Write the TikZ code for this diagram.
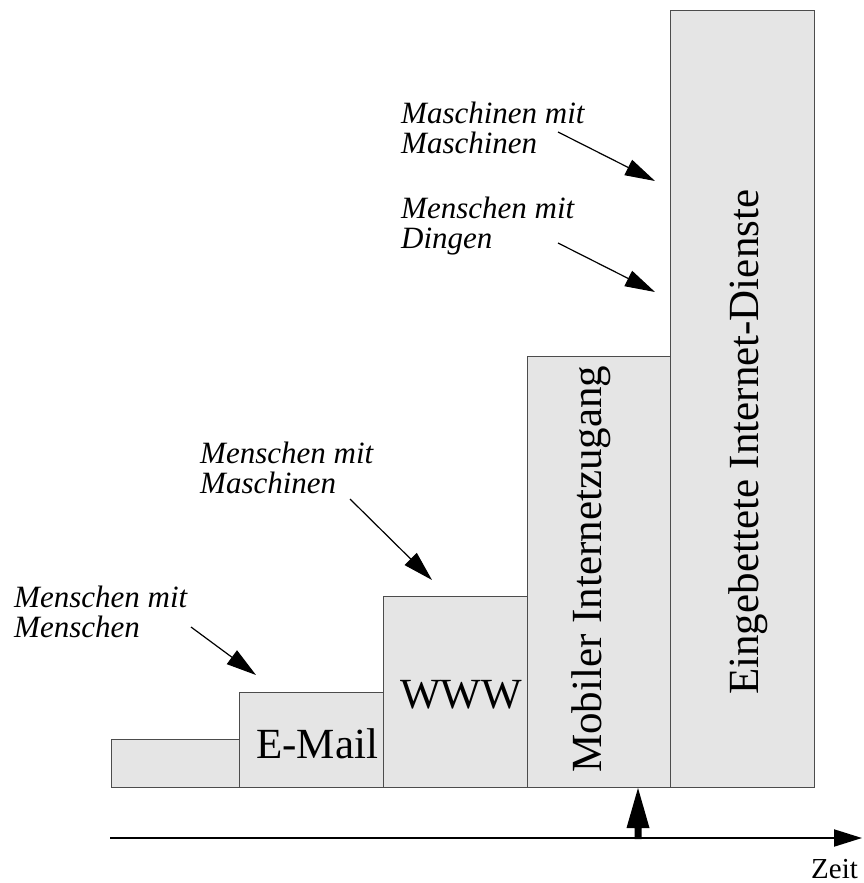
\documentclass[tikz,border=0pt]{standalone}
\usepackage{fontspec}
\setmainfont{Liberation Serif}
\usetikzlibrary{arrows.meta}
\tikzset{
  bar/.style={draw=black!70, fill=black!10, line width=0.8pt},
  bartext/.style={inner sep=0pt, font=\fontsize{43}{43}\selectfont},
  usage/.style={inner sep=0pt, align=left, anchor=base west, font=\fontsize{31}{30}\selectfont\itshape},
  pointer/.style={-{Triangle[length=30pt,width=17pt]}, line width=1.2pt},
}
\begin{document}
\begin{tikzpicture}[x=1pt, y=-1pt]
    \useasboundingbox (0,0) rectangle (863,883);
    % Stufen
    \foreach \l/\r/\t in {111/239/739, 239/383/692, 383/527/596, 527/670/356, 670/814/10}
        \draw[bar] (\l,\t) rectangle (\r,787);
    \node[bartext, anchor=base west] (email) at (256,758) {E-Mail};
    \node[bartext, anchor=base west] (www) at (400,708) {WWW};
    \node[bartext, anchor=base west, rotate=90] (mobil) at (601,773) {Mobiler Internetzugang};
    \node[bartext, anchor=base west, rotate=90] (embed) at (758,695) {Eingebettete Internet-Dienste};
    % Kommunikationsformen (Anker: Grundlinie der zweiten Zeile)
    \node[usage] (mensch) at (14,637) {Menschen mit\\Menschen};
    \node[usage] (maschine) at (200,493) {Menschen mit\\Maschinen};
    \node[usage] (m2m) at (401,153) {Maschinen mit\\Maschinen};
    \node[usage] (dinge) at (401,248) {Menschen mit\\Dingen};
    \coordinate (menschA) at (191,627);  \coordinate (menschB) at (256,675);
    \coordinate (maschineA) at (350,499); \coordinate (maschineB) at (432,580);
    \coordinate (m2mA) at (558,132);     \coordinate (m2mB) at (655,181);
    \coordinate (dingeA) at (558,243);   \coordinate (dingeB) at (655,292);
    \draw[pointer] (menschA) -- (menschB);
    \draw[pointer] (maschineA) -- (maschineB);
    \draw[pointer] (m2mA) -- (m2mB);
    \draw[pointer] (dingeA) -- (dingeB);
    % Zeitachse
    \coordinate (t0) at (110,838);
    \coordinate (t1) at (862,838);
    \draw[-{Triangle[length=28pt,width=17pt]}, line width=2pt] (t0) -- (t1);
    \node[inner sep=0pt, anchor=base west, font=\fontsize{29}{29}\selectfont] (zeit) at (811,878) {Zeit};
    % heute
    \coordinate (heute) at (638,788);
    \fill (heute) -- ++(-11.5,40) -- ++(8,0) -- ++(0,11) -- ++(7,0) -- ++(0,-11) -- ++(8,0) -- cycle;
\end{tikzpicture}
\end{document}
